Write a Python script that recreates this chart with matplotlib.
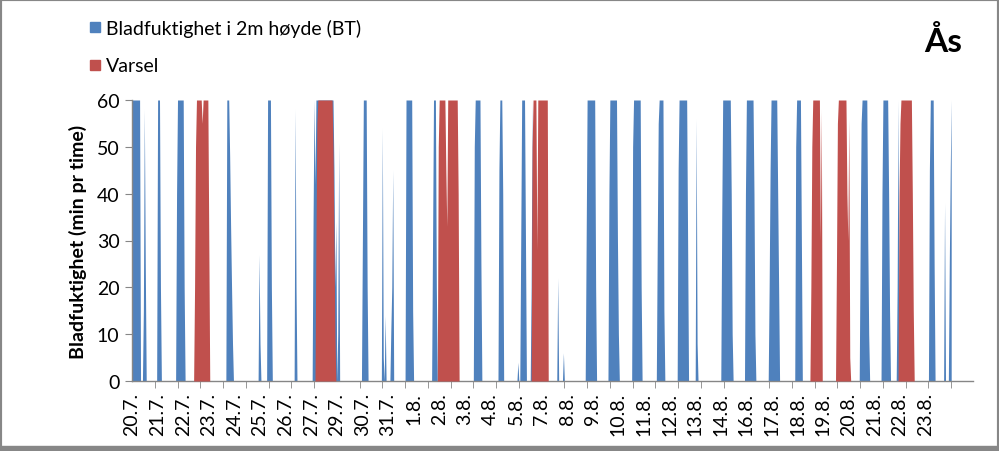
import matplotlib
matplotlib.use("Agg")
import matplotlib.pyplot as plt
from matplotlib.patches import Rectangle
import numpy as np

plt.rcParams['font.family'] = ['Lato', 'DejaVu Sans']

BLUE = '#4F81BD'
RED = '#C0504D'
GREY = '#868686'

# timeverdier fra 20.7 kl 00 (en kategori pr time)
n_hours = 865
n_axis = 887
tick_step = 24
label_step = 27

day_labels = ["20.7.", "21.7.", "22.7.", "23.7.", "24.7.", "25.7.", "26.7.", "27.7.",
              "29.7.", "30.7.", "31.7.", "1.8.", "2.8.", "3.8.", "4.8.", "5.8.",
              "7.8.", "8.8.", "9.8.", "10.8.", "11.8.", "12.8.", "13.8.", "14.8.",
              "16.8.", "17.8.", "18.8.", "19.8.", "20.8.", "21.8.", "22.8.", "23.8."]

# bladfuktighet, perioder: starttime og minutter pr time
bt_start = [0, 11, 26, 46, 99, 133, 142, 171, 190, 242, 263, 272, 288, 316,
            360, 386, 406, 420, 448, 454, 478, 502, 527, 553, 575, 594, 621,
            646, 671, 699, 767, 790, 806, 840, 856, 861]
bt_values = [
    [60, 60, 60, 60, 60, 60, 60, 60, 60, 0],
    [0, 15, 58, 25, 0],
    [0, 60, 60, 60, 20, 0],
    [0, 40, 60, 60, 60, 60, 60, 60, 60, 20, 0],
    [0, 60, 60, 60, 48, 33, 20, 8, 0],
    [0, 27, 8, 0],
    [0, 60, 60, 60, 60, 20, 0],
    [0, 58, 20, 0],
    [0, 35, 60, 42] + [60] * 19 + [45, 20, 34, 0, 10, 51, 0],
    [0, 30, 60, 60, 60, 60, 20, 0],
    [0, 54, 5, 0, 14, 0],
    [0, 11, 20, 45, 0],
    [0, 60, 60, 60, 60, 60, 60, 60, 15, 0],
    [0, 30, 60, 60, 60, 20, 0],
    [0, 50, 60, 60, 60, 60, 60, 60, 25, 0],
    [0, 45, 60, 60, 60, 40, 0],
    [0, 4, 0, 0, 30, 60, 60, 60, 60, 30, 0],
    [0, 20, 60, 0],
    [0, 22, 0],
    [0, 6, 0],
    [0, 30] + [60] * 9 + [20, 0],
    [0, 40] + [60] * 8 + [30, 10, 0],
    [0, 50] + [60] * 8 + [20, 0],
    [0, 30, 55] + [60] * 5 + [15, 0],
    [0, 45] + [60] * 9 + [30, 0],
    [0, 56, 8, 0],
    [0, 35] + [60] * 9 + [40, 10, 0],
    [0, 40] + [60] * 8 + [40, 10, 0],
    [0, 20, 45] + [60] * 7 + [40, 20, 0],
    [0, 50] + [60] * 5 + [30, 0],
    [0, 30, 55] + [60] * 6 + [30, 10, 0],
    [0, 40] + [60] * 6 + [40, 15, 0],
    [0, 20, 60, 0],
    [0, 45, 60, 60, 60, 60, 25, 0],
    [0, 38, 0],
    [0, 25, 45, 60],
]

# varsel
varsel_start = [65, 193, 322, 421, 715, 742, 808]
varsel_values = [
    [0, 20, 50] + [60] * 6 + [55] + [60] * 6 + [30, 0],
    [0, 30, 55] + [60] * 16 + [50, 30, 10, 0],
    [0, 50] + [60] * 7 + [45, 33] + [60] * 11 + [40, 0],
    [0, 50, 60, 60, 60, 60, 28] + [60] * 11 + [0],
    [0, 20, 50] + [60] * 8 + [30, 58, 0],
    [0, 25, 55] + [60] * 9 + [40, 30, 56, 5, 0],
    [0, 40, 55] + [60] * 12 + [40, 15, 0],
]


def build(starts, values):
    series = np.zeros(n_hours)
    for s, v in zip(starts, values):
        series[s:s + len(v)] = v
    return series


hours = np.arange(n_hours)
bt = build(bt_start, bt_values)
varsel = build(varsel_start, varsel_values)

W, H = 999, 452
fig = plt.figure(figsize=(W / 100, H / 100), dpi=100)
ax = fig.add_axes([132 / W, (H - 382) / H, 841 / W, 281 / H])

ax.fill_between(hours, bt, color=BLUE, lw=0, zorder=2)
ax.fill_between(hours, varsel, color=RED, lw=0, zorder=3)

ax.set_xlim(0, n_axis)
ax.set_ylim(0, 60)

ax.set_yticks(range(0, 61, 10))
ax.tick_params(axis='y', length=5, color=GREY, labelsize=14, pad=4)

ax.set_xticks([i * label_step for i in range(len(day_labels))])
ax.set_xticklabels(day_labels, rotation=90)
ax.set_xticks(range(0, n_hours, tick_step), minor=True)
ax.tick_params(axis='x', which='major', length=0, labelsize=14, pad=8)
ax.tick_params(axis='x', which='minor', length=5, color=GREY)

for side in ['top', 'right']:
    ax.spines[side].set_visible(False)
for side in ['left', 'bottom']:
    ax.spines[side].set_color(GREY)
    ax.spines[side].set_linewidth(1)

ax.set_ylabel("Bladfuktighet (min pr time)", fontsize=14, fontweight='bold', labelpad=7)

# legend
fig.patches.append(Rectangle((90 / W, 1 - 33 / H), 10 / W, 10 / H, transform=fig.transFigure,
                             color=BLUE))
fig.patches.append(Rectangle((90 / W, 1 - 71 / H), 10 / W, 10 / H, transform=fig.transFigure,
                             color=RED))
fig.text(106 / W, 1 - 29 / H, "Bladfuktighet i 2m høyde (BT)", fontsize=14, va='center')
fig.text(106 / W, 1 - 66 / H, "Varsel", fontsize=14, va='center')

fig.text(943 / W, 1 - 41 / H, "Ås", fontsize=24, fontweight='bold', ha='center', va='center')

# ramme
fig.patches.append(Rectangle((0, 0), 1, 1, transform=fig.transFigure, fill=False,
                             ec='#878787', lw=3))
fig.patches.append(Rectangle((0, 0), 1, 5 / H, transform=fig.transFigure, color='#878787'))

fig.savefig("out.png", dpi=100)
